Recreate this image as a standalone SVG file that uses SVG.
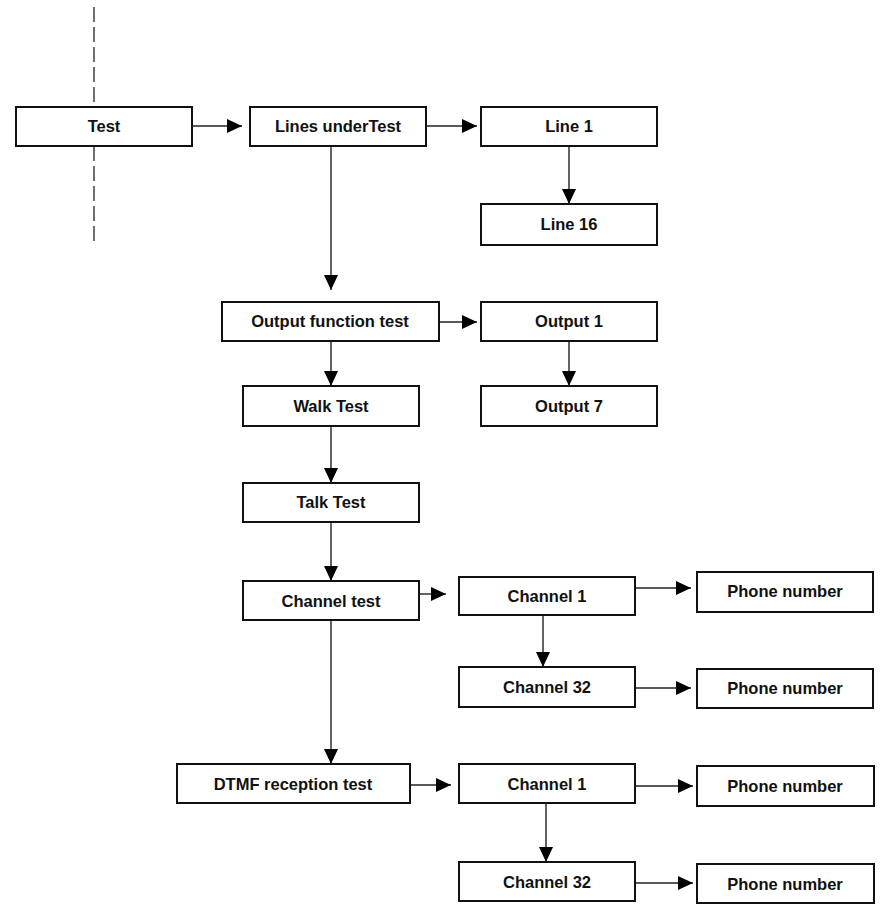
<svg xmlns="http://www.w3.org/2000/svg" width="881" height="909" viewBox="0 0 881 909">
<defs>
<marker id="ah" markerUnits="userSpaceOnUse" markerWidth="16" markerHeight="14" refX="15" refY="7" orient="auto">
<path d="M0,0 L15,7 L0,14 z" fill="#000"/>
</marker>
<style>
.box{fill:#fff;stroke:#111;stroke-width:2}
.lbl{font-family:"Liberation Sans",Arial,sans-serif;font-weight:bold;font-size:16.5px;text-anchor:middle;fill:#111}
.con{stroke:#222;stroke-width:1.4;fill:none}
.arr{marker-end:url(#ah)}
.dash{stroke:#222;stroke-width:1.3;stroke-dasharray:15,5;fill:none}
</style>
</defs>
<rect width="881" height="909" fill="#fff"/>
<g id="connectors">
<line class="dash" x1="94" y1="7" x2="94" y2="107"/>
<line class="dash" x1="94" y1="146" x2="94" y2="245"/>
<line class="con arr" x1="192" y1="126" x2="242" y2="126"/>
<line class="con arr" x1="426" y1="126" x2="477" y2="126"/>
<line class="con arr" x1="569" y1="146" x2="569" y2="204"/>
<line class="con arr" x1="331" y1="146" x2="331" y2="290"/>
<line class="con arr" x1="439" y1="322" x2="477" y2="322"/>
<line class="con arr" x1="569" y1="341" x2="569" y2="386"/>
<line class="con arr" x1="331" y1="341" x2="331" y2="386"/>
<line class="con arr" x1="331" y1="426" x2="331" y2="483"/>
<line class="con arr" x1="331" y1="522" x2="331" y2="581"/>
<line class="con arr" x1="419" y1="594" x2="446" y2="594"/>
<line class="con arr" x1="635" y1="588" x2="691" y2="588"/>
<line class="con arr" x1="543" y1="615" x2="543" y2="667"/>
<line class="con arr" x1="635" y1="688" x2="691" y2="688"/>
<line class="con arr" x1="331" y1="620" x2="331" y2="764"/>
<line class="con arr" x1="410" y1="785" x2="451" y2="785"/>
<line class="con arr" x1="635" y1="786" x2="693" y2="786"/>
<line class="con arr" x1="546" y1="803" x2="546" y2="862"/>
<line class="con arr" x1="635" y1="883" x2="693" y2="883"/>
</g>
<g id="test"><rect class="box" x="16" y="107" width="176" height="39"/><text class="lbl" x="104" y="132">Test</text></g>
<g id="lines"><rect class="box" x="250" y="107" width="176" height="39"/><text class="lbl" x="338" y="132">Lines underTest</text></g>
<g id="line1"><rect class="box" x="481" y="107" width="176" height="39"/><text class="lbl" x="569" y="132">Line 1</text></g>
<g id="line16"><rect class="box" x="481" y="204" width="176" height="41"/><text class="lbl" x="569" y="230">Line 16</text></g>
<g id="outfunc"><rect class="box" x="222" y="302" width="217" height="39"/><text class="lbl" x="330" y="327">Output function test</text></g>
<g id="out1"><rect class="box" x="481" y="302" width="176" height="39"/><text class="lbl" x="569" y="327">Output 1</text></g>
<g id="walk"><rect class="box" x="243" y="386" width="176" height="40"/><text class="lbl" x="331" y="412">Walk Test</text></g>
<g id="out7"><rect class="box" x="481" y="386" width="176" height="40"/><text class="lbl" x="569" y="412">Output 7</text></g>
<g id="talk"><rect class="box" x="243" y="483" width="176" height="39"/><text class="lbl" x="331" y="508">Talk Test</text></g>
<g id="chtest"><rect class="box" x="243" y="581" width="176" height="39"/><text class="lbl" x="331" y="607">Channel test</text></g>
<g id="ch1a"><rect class="box" x="459" y="577" width="176" height="38"/><text class="lbl" x="547" y="602">Channel 1</text></g>
<g id="pn1"><rect class="box" x="697" y="572" width="176" height="40"/><text class="lbl" x="785" y="597">Phone number</text></g>
<g id="ch32a"><rect class="box" x="459" y="667" width="176" height="40"/><text class="lbl" x="547" y="693">Channel 32</text></g>
<g id="pn2"><rect class="box" x="697" y="669" width="176" height="39"/><text class="lbl" x="785" y="694">Phone number</text></g>
<g id="dtmf"><rect class="box" x="177" y="764" width="233" height="39"/><text class="lbl" x="293" y="790">DTMF reception test</text></g>
<g id="ch1b"><rect class="box" x="459" y="764" width="176" height="39"/><text class="lbl" x="547" y="790">Channel 1</text></g>
<g id="pn3"><rect class="box" x="697" y="766" width="177" height="40"/><text class="lbl" x="785" y="792">Phone number</text></g>
<g id="ch32b"><rect class="box" x="459" y="862" width="176" height="39"/><text class="lbl" x="547" y="888">Channel 32</text></g>
<g id="pn4"><rect class="box" x="697" y="864" width="177" height="39"/><text class="lbl" x="785" y="890">Phone number</text></g>
</svg>
